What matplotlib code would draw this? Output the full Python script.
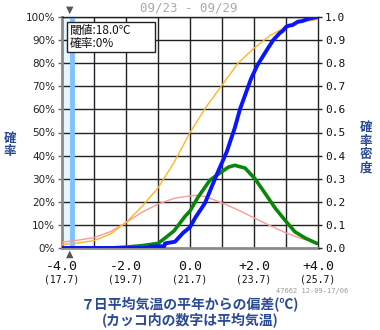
import matplotlib
matplotlib.use("Agg")
import matplotlib.pyplot as plt
from matplotlib.patches import Rectangle
from matplotlib.transforms import blended_transform_factory

# ---- data ----
period = "09/23 - 09/29"
threshold_dev = -3.7
threshold_text = "閾値:18.0℃\n確率:0%"
xticks = [-4.0, -2.0, 0.0, 2.0, 4.0]
xtick_labels = ["-4.0", "-2.0", "0.0", "+2.0", "+4.0"]
xtick_sub = ["(17.7)", "(19.7)", "(21.7)", "(23.7)", "(25.7)"]
left_ticks = [i / 10 for i in range(11)]
left_labels = [f"{i*10}%" for i in range(11)]
right_labels = [f"{i/10:.1f}" for i in range(11)]

clim_cdf_x = [-4.0, -3.5, -3.0, -2.5, -2.0, -1.5, -1.0, -0.5, 0.0, 0.5, 1.0, 1.5, 2.0, 2.5, 3.0, 3.5, 4.0]
clim_cdf_y = [0.015, 0.022, 0.032, 0.06, 0.11, 0.18, 0.26, 0.37, 0.50, 0.61, 0.705, 0.80, 0.865, 0.92, 0.957, 0.978, 0.99]

clim_pdf_x = [-4.0, -3.5, -3.0, -2.5, -2.0, -1.5, -1.0, -0.5, 0.0, 0.2, 0.5, 1.0, 1.5, 2.0, 2.5, 3.0, 3.5, 4.0]
clim_pdf_y = [0.025, 0.034, 0.045, 0.07, 0.11, 0.155, 0.19, 0.215, 0.226, 0.228, 0.222, 0.195, 0.165, 0.13, 0.097, 0.065, 0.04, 0.02]

fc_pdf_x = [-4.0, -2.5, -2.0, -1.5, -1.0, -0.78, -0.5, -0.16, 0.0, 0.25, 0.625, 0.99, 1.2, 1.4, 1.72, 2.03, 2.34, 2.66, 2.97, 3.28, 3.6, 3.96, 4.0]
fc_pdf_y = [0.0, 0.0, 0.004, 0.01, 0.02, 0.043, 0.074, 0.136, 0.16, 0.22, 0.294, 0.33, 0.35, 0.358, 0.346, 0.30, 0.238, 0.173, 0.12, 0.07, 0.043, 0.02, 0.02]

fc_cdf_x = [-4.0, -1.28, -1.25, -0.8, -0.78, -0.47, -0.22, 0.0, 0.16, 0.47, 0.83, 1.15, 1.4, 1.56, 1.9, 2.1, 2.4, 2.6, 2.8, 2.9, 3.0, 3.1, 3.2, 3.375, 3.5, 3.65, 3.8, 4.0]
fc_cdf_y = [0.0, 0.0, 0.006, 0.008, 0.02, 0.027, 0.065, 0.09, 0.13, 0.195, 0.316, 0.417, 0.52, 0.60, 0.73, 0.79, 0.857, 0.90, 0.93, 0.94, 0.957, 0.963, 0.965, 0.98, 0.982, 0.99, 0.995, 1.0]

# ---- figure ----
W, H = 380, 330
fig = plt.figure(figsize=(W / 100, H / 100), dpi=100)
L, R, T, B = 62, 318, 17, 248
ax = fig.add_axes([L / W, 1 - B / H, (R - L) / W, (B - T) / H])
ax.set_xlim(-4, 4)
ax.set_ylim(0, 1)

# grid
for gx in range(-3, 4):
    ax.axvline(gx, color="#222222", lw=1.0, zorder=1)
for gy in left_ticks[1:]:
    ax.axhline(gy, color="#222222", lw=1.0, zorder=1)

# threshold
ax.axvspan(-4, threshold_dev, color="#e4f6ff", zorder=0.5, lw=0)
ax.axvline(threshold_dev, color="#80c2ff", lw=3.5, zorder=2)

ax.plot(clim_pdf_x, clim_pdf_y, color="#ff9a9a", lw=1.0, zorder=3)
ax.plot(clim_cdf_x, clim_cdf_y, color="#ffb820", lw=1.0, zorder=3)
ax.plot(fc_pdf_x, fc_pdf_y, color="#0a860a", lw=2.6, zorder=4)
ax.plot(fc_cdf_x, fc_cdf_y, color="#0a14ff", lw=2.8, zorder=5)

for s in ["left", "bottom"]:
    ax.spines[s].set_color("#8a8a8a")
    ax.spines[s].set_linewidth(2)
for s in ["right", "top"]:
    ax.spines[s].set_color("#222222")
    ax.spines[s].set_linewidth(1)

ax.set_yticks(left_ticks)
ax.set_yticklabels(left_labels, fontsize=7.5, color="#222222", family="DejaVu Sans")
ax.tick_params(axis="y", length=3, width=1, color="#666666", pad=2)
ax.set_xticks(xticks)
ax.set_xticklabels(xtick_labels, fontsize=9.5, family="DejaVu Sans Mono", color="#111111")
ax.tick_params(axis="x", length=0, pad=9)
trans = blended_transform_factory(ax.transData, fig.transFigure)
for xv, sub in zip(xticks, xtick_sub):
    ax.text(xv, 1 - 279 / H, sub, transform=trans, fontsize=7, family="DejaVu Sans Mono",
            color="#111111", ha="center", va="center")

ax2 = ax.twinx()
ax2.set_ylim(0, 1)
ax2.set_yticks(left_ticks)
ax2.set_yticklabels(right_labels, fontsize=8, family="DejaVu Sans Mono", color="#111111")
ax2.tick_params(axis="y", length=3, width=1, color="#222222", pad=2)
for s in ax2.spines.values():
    s.set_visible(False)

# annotation box
ax.add_patch(Rectangle((-3.84, 0.848), 2.75, 0.13, fc="white", ec="#222222", lw=1, zorder=6))
ax.text(-3.76, 0.968, threshold_text, fontsize=8.5, family=["Noto Sans CJK JP", "DejaVu Sans"],
        va="top", ha="left", color="#111111", linespacing=1.0, zorder=7)

# markers
fig.text(70 / W, 1 - 10 / H, "▼", fontsize=7, color="#555555", ha="center", va="center")
fig.text(70 / W, 1 - 254 / H, "▲", fontsize=7, color="#555555", ha="center", va="center")

# period title
fig.text(189 / W, 1 - 8 / H, period, fontsize=9, family="DejaVu Sans Mono", color="#aaaaaa", ha="center", va="center")

# side labels
jp = ["Noto Sans CJK JP", "DejaVu Sans"]
fig.text(10 / W, 1 - 145 / H, "確\n率", fontsize=9, family=jp, color="#2b4a95", ha="center", va="center",
         fontweight="bold", linespacing=1.05)
fig.text(366 / W, 1 - 148 / H, "確\n率\n密\n度", fontsize=9, family=jp, color="#2b4a95", ha="center",
         va="center", fontweight="bold", linespacing=1.05)

# id stamp
fig.text(348 / W, 1 - 291 / H, "47662 12-09-17/06", fontsize=5, family="DejaVu Sans Mono", color="#999999",
         ha="right", va="center")

# bottom label
fig.text(190 / W, 1 - 305 / H, "７日平均気温の平年からの偏差(℃)", fontsize=10, family=jp, color="#2b4a95",
         ha="center", va="center", fontweight="bold")
fig.text(190 / W, 1 - 321 / H, "(カッコ内の数字は平均気温)", fontsize=10, family=jp, color="#2b4a95",
         ha="center", va="center", fontweight="bold")

fig.savefig("out.png", dpi=100)
